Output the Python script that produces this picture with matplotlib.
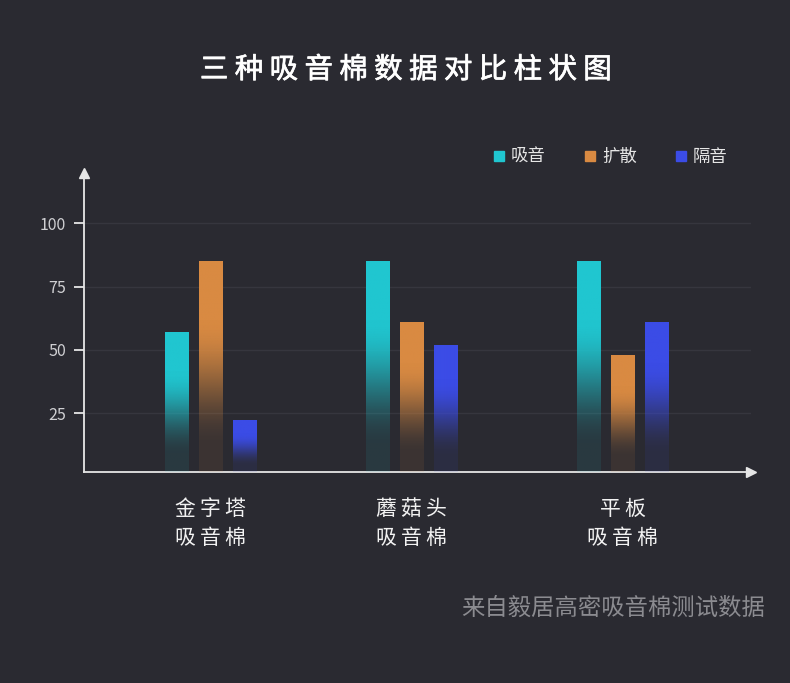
import matplotlib.pyplot as plt
import matplotlib.patheffects as pe
from matplotlib.lines import Line2D
import numpy as np

# Data
categories = ["金字塔\n吸音棉", "蘑菇头\n吸音棉", "平板\n吸音棉"]
series_names = ["吸音", "扩散", "隔音"]
absorb = [57, 85, 85]
diffuse = [85, 61, 48]
isolate = [22.5, 52, 61]
yticks = [25, 50, 75, 100]
title = "三种吸音棉数据对比柱状图"
source = "来自毅居高密吸音棉测试数据"

colors = ["#20c6d0", "#d98a42", "#3b4ce6"]
bg = "#2a2a31"
font = ["Noto Sans CJK SC", "DejaVu Sans"]
plt.rcParams["font.family"] = font

# Layout
group_x = np.array([0, 0.976, 2.0])
offset = 0.163
width = 0.112


def gradient_bar(ax, x, h, color, ybottom):
    bar = ax.bar(x, h, width=width, bottom=0, color="none", edgecolor="none")[0]
    rgb = np.array(plt.matplotlib.colors.to_rgb(color))
    n = 256
    t = np.linspace(0, 1, n)
    s = np.clip((t - 0.12) / 0.6, 0, 1)
    s = s * s * (3 - 2 * s)
    alpha = 0.1 + 0.9 * s
    img = np.zeros((n, 1, 4))
    img[:, 0, :3] = rgb
    img[:, 0, 3] = alpha
    im = ax.imshow(img, extent=[x - width / 2, x + width / 2, ybottom, h],
                   origin="lower", aspect="auto", interpolation="bilinear", zorder=3)
    im.set_clip_path(bar)


def spaced(text, sep):
    return "\n".join(sep.join(line) for line in text.split("\n"))


fig = plt.figure(figsize=(7.9, 6.83), dpi=100, facecolor=bg)
ax = fig.add_axes([84 / 790, 1 - 472 / 683, (751 - 84) / 790, (472 - 173) / 683])
ax.set_facecolor(bg)

ymin, ymax = 1.8, 119.8
for i, vals in enumerate([absorb, diffuse, isolate]):
    for gx, v in zip(group_x, vals):
        gradient_bar(ax, gx + (i - 1) * offset, v, colors[i], ymin)

ax.set_xlim(-0.614, 2.624)
ax.set_ylim(ymin, ymax)

# Axes styling
for s in ["top", "right"]:
    ax.spines[s].set_visible(False)
for s in ["left", "bottom"]:
    ax.spines[s].set_color("#e6e6e6")
    ax.spines[s].set_linewidth(1.3)
ax.plot([0], [1], marker="^", color="#e6e6e6", markersize=7, transform=ax.transAxes, clip_on=False)
ax.plot([1], [0], marker=">", color="#e6e6e6", markersize=7, transform=ax.transAxes, clip_on=False)

ax.set_yticks(yticks)
ax.set_yticklabels([str(v) for v in yticks], fontsize=11.5, color="#cfcfd2")
ax.tick_params(axis="y", length=7, width=1.3, color="#e6e6e6", pad=6)
ax.set_xticks(group_x)
ax.set_xticklabels([spaced(c, "\u2009") for c in categories], fontsize=15,
                   color="#f2f2f2", linespacing=1.4)
ax.tick_params(axis="x", length=0, pad=19)
ax.yaxis.grid(True, color="#36363e", linewidth=1)
ax.set_axisbelow(True)

# Legend
handles = [Line2D([], [], marker="s", linestyle="none", color=c, markersize=6.5) for c in colors]
leg = ax.legend(handles, series_names, ncol=3, frameon=False, loc="center left",
                bbox_to_anchor=(476 / 790, 1 - 157 / 683), bbox_transform=fig.transFigure,
                handlelength=0.8, handletextpad=0.3, columnspacing=2.15, fontsize=12.5)
for t in leg.get_texts():
    t.set_color("#e6e6e6")

# Title and source
fig.text(406 / 790, 1 - 70 / 683, " ".join(title), ha="center", va="center",
         fontsize=20.5, color="white",
         path_effects=[pe.withStroke(linewidth=0.5, foreground="white")])
fig.text(765 / 790, 1 - 608 / 683, source, ha="right", va="center",
         fontsize=16.8, color="#8b8b90")

plt.savefig("out.png", dpi=100, facecolor=bg)
